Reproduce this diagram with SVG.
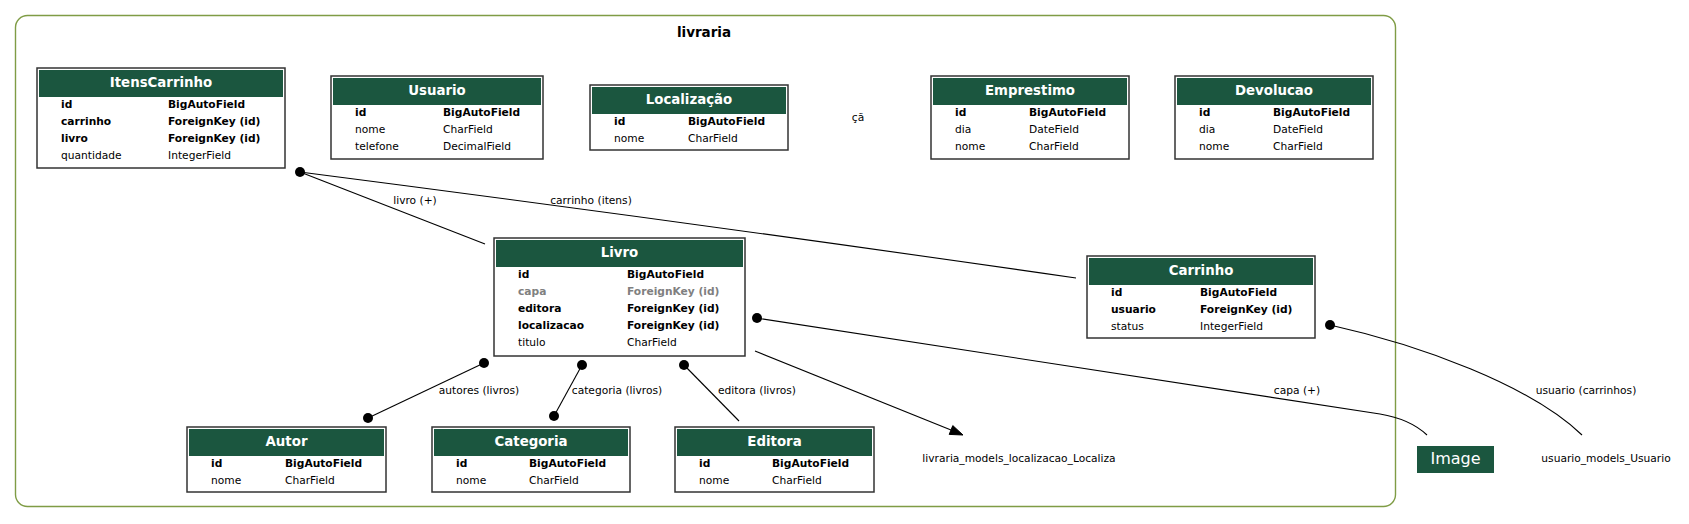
<svg xmlns="http://www.w3.org/2000/svg" width="1689" height="524" viewBox="0 0 1689 524">
<style>
text{font-family:"DejaVu Sans","Noto Sans",sans-serif;font-size:10.67px;fill:#000}
.box{fill:#fff;stroke:#333;stroke-width:1.5}
.hdr{fill:#1b563f}
.title{font-size:13.33px;font-weight:bold;fill:#fff;text-anchor:middle}
.b{font-weight:bold}
.g{fill:#808080}
.edge{fill:none;stroke:#000;stroke-width:1.1}
.dot{fill:#000}
.lbl{text-anchor:middle}
</style>
<rect x="15.5" y="15.5" width="1380" height="491" rx="12" fill="none" stroke="#7f9c45" stroke-width="1.4"/>
<text x="704" y="37" class="b" style="font-size:13.5px" text-anchor="middle">livraria</text>

<g id="ItensCarrinho" transform="translate(37,68)">
<rect class="box" width="248" height="100"/><rect class="hdr" x="2" y="2" width="244" height="27"/>
<text class="title" x="124" y="19">ItensCarrinho</text>
<text class="b" x="24" y="39.5">id</text><text class="b" x="131" y="39.5">BigAutoField</text>
<text class="b" x="24" y="56.7">carrinho</text><text class="b" x="131" y="56.7">ForeignKey (id)</text>
<text class="b" x="24" y="73.9">livro</text><text class="b" x="131" y="73.9">ForeignKey (id)</text>
<text x="24" y="91.1">quantidade</text><text x="131" y="91.1">IntegerField</text>
</g>

<g id="Usuario" transform="translate(331,76)">
<rect class="box" width="212" height="83"/><rect class="hdr" x="2" y="2" width="208" height="27"/>
<text class="title" x="106" y="19">Usuario</text>
<text class="b" x="24" y="39.5">id</text><text class="b" x="112" y="39.5">BigAutoField</text>
<text x="24" y="56.7">nome</text><text x="112" y="56.7">CharField</text>
<text x="24" y="73.9">telefone</text><text x="112" y="73.9">DecimalField</text>
</g>

<g id="Localizacao" transform="translate(590,85)">
<rect class="box" width="198" height="65"/><rect class="hdr" x="2" y="2" width="194" height="27"/>
<text class="title" x="99" y="19">Localização</text>
<text class="b" x="24" y="39.5">id</text><text class="b" x="98" y="39.5">BigAutoField</text>
<text x="24" y="56.7">nome</text><text x="98" y="56.7">CharField</text>
</g>

<g id="broken-node">
<text x="858" y="121" class="lbl">çã</text>
</g>

<g id="Emprestimo" transform="translate(931,76)">
<rect class="box" width="198" height="83"/><rect class="hdr" x="2" y="2" width="194" height="27"/>
<text class="title" x="99" y="19">Emprestimo</text>
<text class="b" x="24" y="39.5">id</text><text class="b" x="98" y="39.5">BigAutoField</text>
<text x="24" y="56.7">dia</text><text x="98" y="56.7">DateField</text>
<text x="24" y="73.9">nome</text><text x="98" y="73.9">CharField</text>
</g>

<g id="Devolucao" transform="translate(1175,76)">
<rect class="box" width="198" height="83"/><rect class="hdr" x="2" y="2" width="194" height="27"/>
<text class="title" x="99" y="19">Devolucao</text>
<text class="b" x="24" y="39.5">id</text><text class="b" x="98" y="39.5">BigAutoField</text>
<text x="24" y="56.7">dia</text><text x="98" y="56.7">DateField</text>
<text x="24" y="73.9">nome</text><text x="98" y="73.9">CharField</text>
</g>

<g id="Livro" transform="translate(494,238)">
<rect class="box" width="251" height="118"/><rect class="hdr" x="2" y="2" width="247" height="27"/>
<text class="title" x="125.5" y="19">Livro</text>
<text class="b" x="24" y="39.5">id</text><text class="b" x="133" y="39.5">BigAutoField</text>
<text class="b g" x="24" y="56.7">capa</text><text class="b g" x="133" y="56.7">ForeignKey (id)</text>
<text class="b" x="24" y="73.9">editora</text><text class="b" x="133" y="73.9">ForeignKey (id)</text>
<text class="b" x="24" y="91.1">localizacao</text><text class="b" x="133" y="91.1">ForeignKey (id)</text>
<text x="24" y="108.3">titulo</text><text x="133" y="108.3">CharField</text>
</g>

<g id="Carrinho" transform="translate(1087,256)">
<rect class="box" width="228" height="82"/><rect class="hdr" x="2" y="2" width="224" height="27"/>
<text class="title" x="114" y="19">Carrinho</text>
<text class="b" x="24" y="39.5">id</text><text class="b" x="113" y="39.5">BigAutoField</text>
<text class="b" x="24" y="56.7">usuario</text><text class="b" x="113" y="56.7">ForeignKey (id)</text>
<text x="24" y="73.9">status</text><text x="113" y="73.9">IntegerField</text>
</g>

<g id="Autor" transform="translate(187,427)">
<rect class="box" width="199" height="65"/><rect class="hdr" x="2" y="2" width="195" height="27"/>
<text class="title" x="99.5" y="19">Autor</text>
<text class="b" x="24" y="39.5">id</text><text class="b" x="98" y="39.5">BigAutoField</text>
<text x="24" y="56.7">nome</text><text x="98" y="56.7">CharField</text>
</g>

<g id="Categoria" transform="translate(432,427)">
<rect class="box" width="198" height="65"/><rect class="hdr" x="2" y="2" width="194" height="27"/>
<text class="title" x="99" y="19">Categoria</text>
<text class="b" x="24" y="39.5">id</text><text class="b" x="97" y="39.5">BigAutoField</text>
<text x="24" y="56.7">nome</text><text x="97" y="56.7">CharField</text>
</g>

<g id="Editora" transform="translate(675,427)">
<rect class="box" width="199" height="65"/><rect class="hdr" x="2" y="2" width="195" height="27"/>
<text class="title" x="99.5" y="19">Editora</text>
<text class="b" x="24" y="39.5">id</text><text class="b" x="97" y="39.5">BigAutoField</text>
<text x="24" y="56.7">nome</text><text x="97" y="56.7">CharField</text>
</g>

<g id="Image">
<rect x="1417" y="446" width="77" height="27" fill="#1b563f"/>
<text x="1455.5" y="463.5" text-anchor="middle" style="font-size:16px;fill:#fff">Image</text>
</g>

<g id="livraria_models_localizacao_Localiza">
<text x="1019" y="462" class="lbl">livraria_models_localizacao_Localiza</text>
</g>

<g id="usuario_models_Usuario">
<text x="1606" y="462" class="lbl">usuario_models_Usuario</text>
</g>

<g id="connectors">
<path class="edge" d="M300,172 L485,244"/>
<path class="edge" d="M300,172 Q688,222 1076,278"/>
<circle class="dot" cx="300" cy="172" r="5"/>
<text x="415" y="204" class="lbl">livro (+)</text>
<text x="591" y="204" class="lbl">carrinho (itens)</text>

<path class="edge" d="M484,363 L368,418"/>
<circle class="dot" cx="484" cy="363" r="5"/>
<circle class="dot" cx="368" cy="418" r="5"/>
<text x="479" y="394" class="lbl">autores (livros)</text>

<path class="edge" d="M582,365 L554,416"/>
<circle class="dot" cx="582" cy="365" r="5"/>
<circle class="dot" cx="554" cy="416" r="5"/>
<text x="617" y="394" class="lbl">categoria (livros)</text>

<path class="edge" d="M684,365 L739,421"/>
<circle class="dot" cx="684" cy="365" r="5"/>
<text x="757" y="394" class="lbl">editora (livros)</text>

<path class="edge" d="M755,351 L951,430"/>
<polygon points="963,435 949.2,434.4 952.8,425.6" fill="#000" stroke="#000" stroke-width="1"/>

<path class="edge" d="M756,318 L1380,414 Q1410,419 1427,435"/>
<circle class="dot" cx="757" cy="318" r="5"/>
<text x="1297" y="394" class="lbl">capa (+)</text>

<path class="edge" d="M1330,325 C1420,345 1530,385 1582,435"/>
<circle class="dot" cx="1330" cy="325" r="5"/>
<text x="1586" y="394" class="lbl">usuario (carrinhos)</text>
</g>
</svg>
